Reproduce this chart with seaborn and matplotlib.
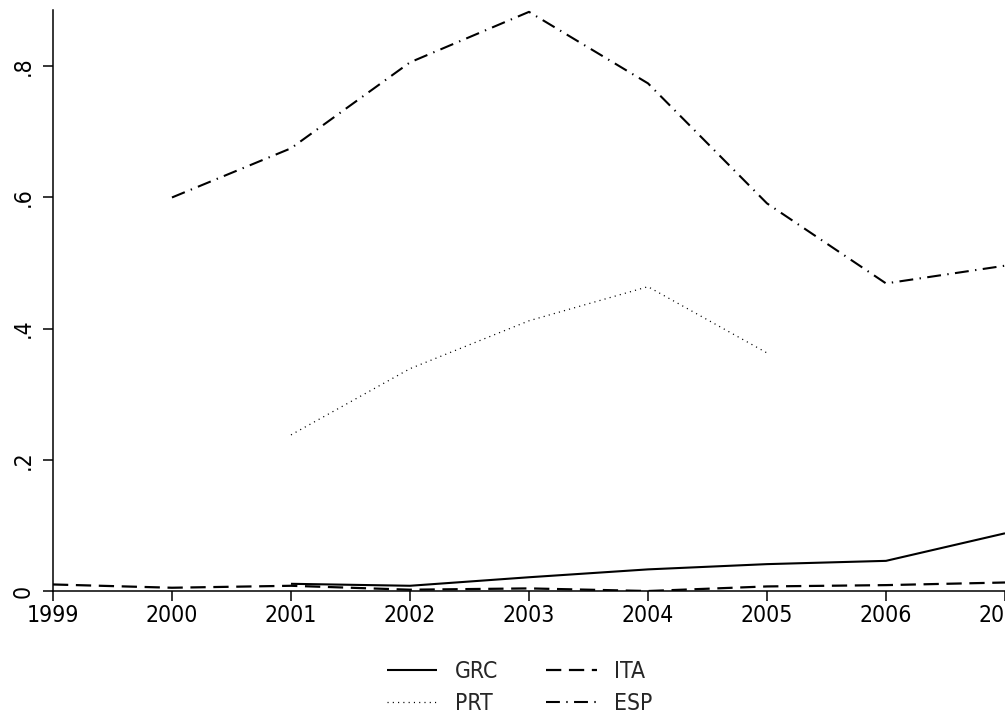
import matplotlib
matplotlib.use("Agg")
import matplotlib.pyplot as plt
import seaborn as sns
import pandas as pd

# Series by country (share, by year)
years_grc = [2001, 2002, 2003, 2004, 2005, 2006, 2007]
grc = [0.011, 0.008, 0.021, 0.033, 0.041, 0.046, 0.088]

years_ita = [1999, 2000, 2001, 2002, 2003, 2004, 2005, 2006, 2007]
ita = [0.010, 0.005, 0.008, 0.002, 0.004, 0.000, 0.007, 0.009, 0.013]

years_prt = [2001, 2002, 2003, 2004, 2005]
prt = [0.238, 0.339, 0.412, 0.464, 0.363]

years_esp = [2000, 2001, 2002, 2003, 2004, 2005, 2006, 2007]
esp = [0.600, 0.675, 0.806, 0.883, 0.774, 0.591, 0.469, 0.496]

x_ticks = list(range(1999, 2008))
y_ticks = [0, 0.2, 0.4, 0.6, 0.8]
y_tick_labels = ["0", ".2", ".4", ".6", ".8"]

sns.set_theme(style="white")
plt.rcParams["font.family"] = ["DejaVu Sans"]
plt.rcParams["font.stretch"] = "condensed"
plt.rcParams["lines.scale_dashes"] = False

fig = plt.figure(figsize=(10.05, 7.17), dpi=100)
ax = fig.add_axes([0.0527, 0.1757, 0.9473, 0.8105])

series = [
    ("GRC", years_grc, grc, dict(lw=1.5), None),
    ("ITA", years_ita, ita, dict(lw=1.6), (11, 5.5)),
    ("PRT", years_prt, prt, dict(lw=0.9), (0.8, 3.0)),
    ("ESP", years_esp, esp, dict(lw=1.5), (10, 4.6, 1, 4.6)),
]

handles = {}
for name, xs, ys, kw, dash in series:
    df = pd.DataFrame({"year": xs, "value": ys})
    sns.lineplot(data=df, x="year", y="value", color="black", ax=ax,
                 label=name, legend=False, **kw)
    line = ax.lines[-1]
    if dash is not None:
        line.set_dashes(dash)
    line.set_solid_capstyle("butt")
    line.set_dash_capstyle("butt")
    handles[name] = line

ax.set_xlim(1999, 2007)
ax.set_ylim(0, 0.886)
ax.set_xticks(x_ticks)
ax.set_xticklabels([str(y) for y in x_ticks], fontsize=16.5)
ax.set_yticks(y_ticks)
ax.set_yticklabels(y_tick_labels, fontsize=16.5, rotation=90, va="center")
ax.set_xlabel("")
ax.set_ylabel("")

for side in ["top", "right"]:
    ax.spines[side].set_visible(False)
for side in ["left", "bottom"]:
    ax.spines[side].set_color("black")
    ax.spines[side].set_linewidth(1.1)
ax.tick_params(axis="both", which="major", direction="out", length=7,
               width=1.1, color="black", labelcolor="black", bottom=True, left=True)
ax.tick_params(axis="x", pad=2)
ax.tick_params(axis="y", pad=6)

order = ["GRC", "PRT", "ITA", "ESP"]
fig.legend([handles[n] for n in order], order, ncol=2, loc="center",
           bbox_to_anchor=(0.517, 0.041), frameon=False, fontsize=16.5,
           handlelength=2.2, handletextpad=0.75, columnspacing=2.1,
           labelspacing=0.42, borderpad=0.2)

fig.savefig("out.png", dpi=100, facecolor="white")
